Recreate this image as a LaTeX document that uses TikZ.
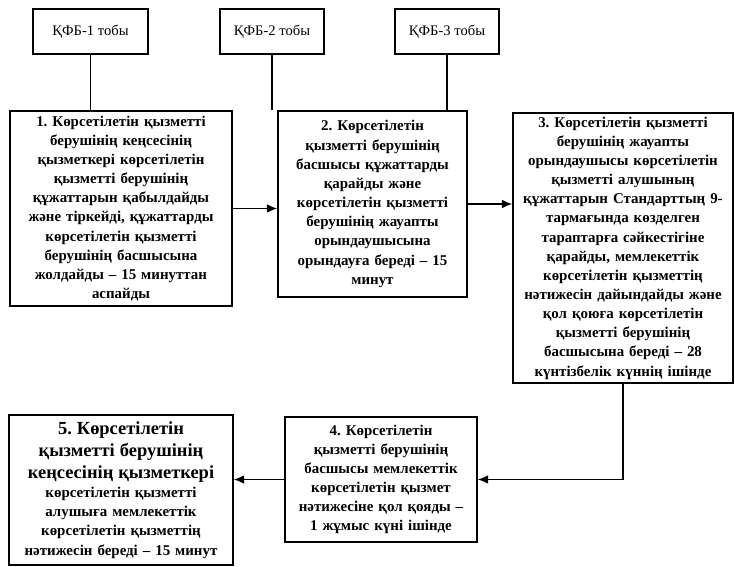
\documentclass[tikz,border=0pt]{standalone}
\usepackage{fontspec}
\setmainfont{Liberation Serif}
\usetikzlibrary{arrows.meta}
\frenchspacing

\begin{document}
\begin{tikzpicture}[x = 0.02cm, y = -0.02cm, ->, > = {Latex[length=6pt,width=5pt]}, line width=0.8pt]

\tikzstyle{grp} = [draw, minimum height=0.9cm, inner sep=2pt, font=\fontsize{8.3}{10}\selectfont]
\tikzstyle{stp} = [draw, align=center, inner sep=2pt, font=\bfseries\fontsize{8.5}{10.9}\selectfont]

\useasboundingbox (0,0) rectangle (735,567);

    % draw group headers
    \foreach \i / \x / \w in {1/90.5/2.3cm, 2/272/2.08cm, 3/447/2.08cm}
        \node[grp, minimum width=\w] (G-\i) at (\x,31.5) {ҚФБ-\i{} тобы};

    % draw steps
    \node[stp, minimum width=4.44cm, minimum height=3.9cm, text width=4.2cm]
          (B-1) at (121,208.5) {1. Көрсетілетін қызметті\\ берушінің кеңсесінің\\
          қызметкері көрсетілетін\\ қызметті берушінің\\ құжаттарын қабылдайды\\
          және тіркейді, құжаттарды\\ көрсетілетін қызметті\\ берушінің басшысына\\
          жолдайды – 15 минуттан\\ аспайды};
    \node[stp, minimum width=3.78cm, minimum height=3.72cm, text width=3.6cm]
          (B-2) at (372.5,204) {2. Көрсетілетін\\ қызметті берушінің\\
          басшысы құжаттарды\\ қарайды және\\ көрсетілетін қызметті\\
          берушінің жауапты\\ орындаушысына\\ орындауға береді – 15\\ минут};
    \node[stp, minimum width=4.4cm, minimum height=5.4cm, text width=4.2cm]
          (B-3) at (623,248) {3. Көрсетілетін қызметті\\ берушінің жауапты\\
          орындаушысы көрсетілетін\\ қызметті алушының\\ құжаттарын Стандарттың 9-\\
          тармағында көзделген\\ тараптарға сәйкестігіне\\ қарайды, мемлекеттік\\
          көрсетілетін қызметтің\\ нәтижесін дайындайды және\\ қол қоюға көрсетілетін\\
          қызметті берушінің\\ басшысына береді – 28\\ күнтізбелік күннің ішінде};
    \node[stp, minimum width=3.84cm, minimum height=2.5cm, text width=3.6cm]
          (B-4) at (381,479.5) {4. Көрсетілетін\\ қызметті берушінің\\
          басшысы мемлекеттік\\ көрсетілетін қызмет\\ нәтижесіне қол қояды –\\
          1 жұмыс күні ішінде};
    \node[stp, minimum width=4.48cm, minimum height=3cm, text width=4.3cm]
          (B-5) at (121,490) {{\fontsize{10.5}{12.5}\selectfont 5. Көрсетілетін\\
          қызметті берушінің\\ кеңсесінің қызметкері\\}
          көрсетілетін қызметті\\ алушыға мемлекеттік\\ көрсетілетін қызметтің\\
          нәтижесін береді – 15 минут};

    % header connections
    \foreach \i in {1,2,3}
        \path (G-\i.south) edge[-] (G-\i.south |- B-\i.north);

    % connect steps
    \foreach \a / \b in {1/2,2/3}
        \draw (B-\a.east) -- (B-\a.east -| B-\b.west);
    \draw (B-3.south) |- (B-4.east);
    \draw (B-4.west) -- (B-4.west -| B-5.east);

\end{tikzpicture}
\end{document}
